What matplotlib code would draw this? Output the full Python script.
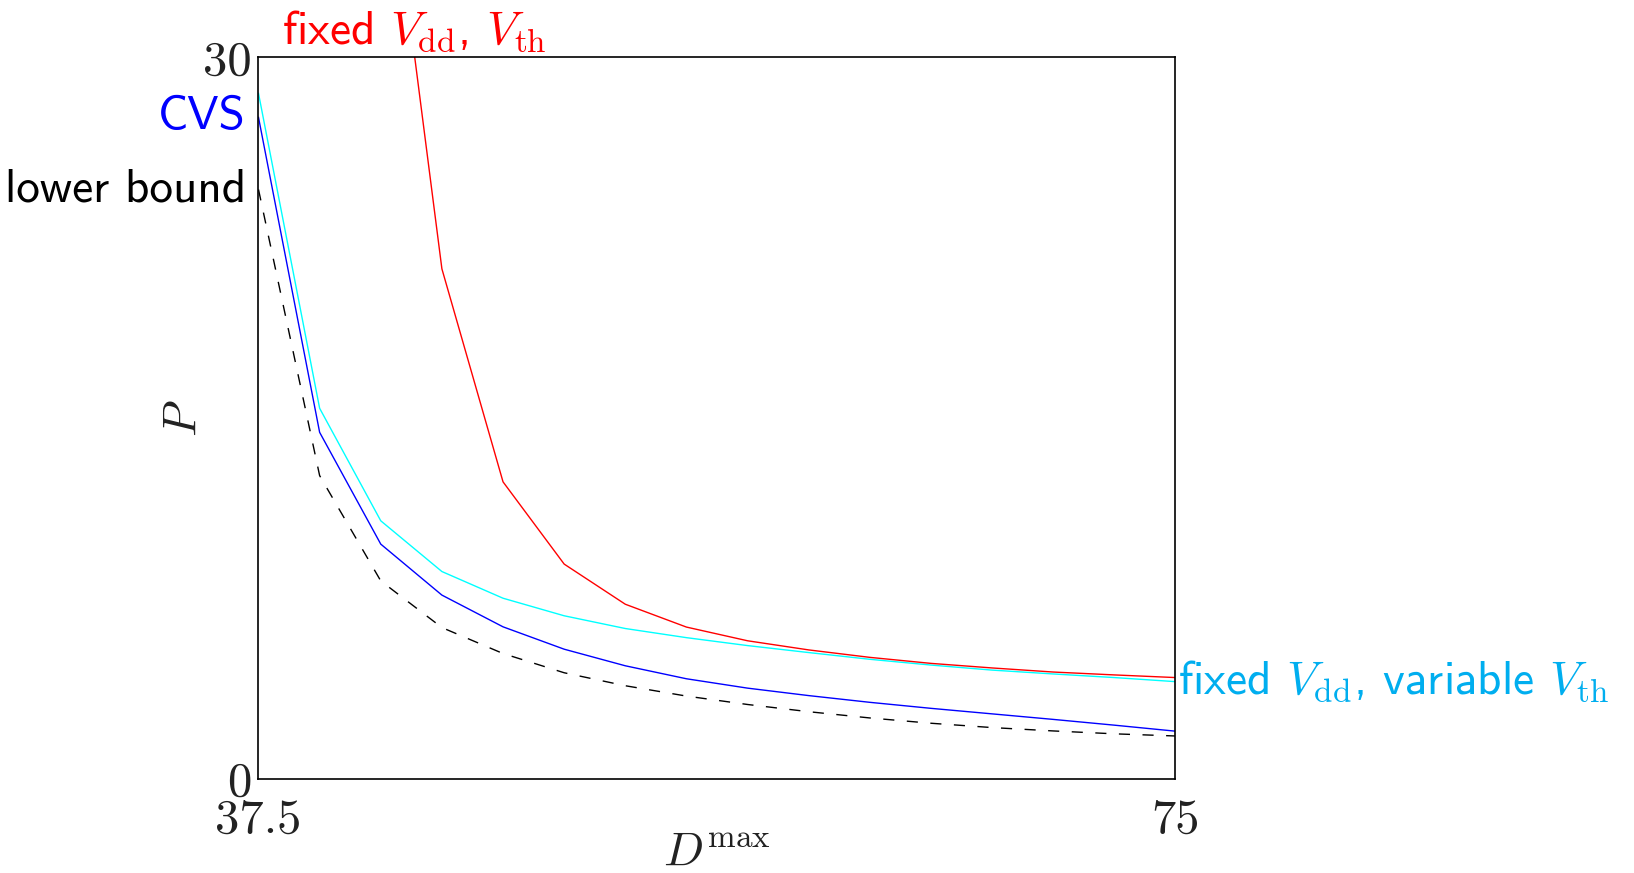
import numpy as np
import matplotlib
matplotlib.use("Agg")
import matplotlib.pyplot as plt

# 数学公式用 Computer Modern，普通文字用 cmss10
plt.rcParams["mathtext.fontset"] = "cm"
plt.rcParams["axes.unicode_minus"] = False

# 横轴：最大时延 D^max
dmax = [37.5, 40, 42.5, 45, 47.5, 50, 52.5, 55, 57.5, 60, 62.5, 65, 67.5, 70, 72.5, 75]

# 各方案的功耗 P
p_lower = [24.5, 12.6, 8.22, 6.28, 5.2, 4.4, 3.86, 3.43, 3.08, 2.78, 2.52, 2.3, 2.12, 1.98, 1.86, 1.77]
p_cvs = [27.5, 14.4, 9.75, 7.63, 6.31, 5.38, 4.69, 4.15, 3.76, 3.45, 3.17, 2.92, 2.69, 2.46, 2.22, 1.97]
p_var_vth = [28.5, 15.4, 10.72, 8.61, 7.5, 6.77, 6.24, 5.86, 5.53, 5.24, 4.96, 4.72, 4.51, 4.35, 4.2, 4.03]
# 固定 Vdd、Vth 在 D^max < 42.5 时无解
dmax_fixed = dmax[2:]
p_fixed = [41.0, 21.2, 12.34, 8.92, 7.25, 6.3, 5.73, 5.35, 5.04, 4.79, 4.6, 4.43, 4.31, 4.2]

fig = plt.figure(figsize=(16.34, 8.73), dpi=100)
ax = fig.add_axes([0.1582, 0.1082, 0.7194 - 0.1582, 0.9344 - 0.1082])

ax.plot(dmax, p_lower, color="black", lw=1.0, linestyle=(0, (8, 9)))
ax.plot(dmax, p_cvs, color="blue", lw=1.0)
ax.plot(dmax, p_var_vth, color="cyan", lw=1.0)
ax.plot(dmax_fixed, p_fixed, color="red", lw=1.0)

ax.set_xlim(37.5, 75)
ax.set_ylim(0, 30)
ax.set_xticks([37.5, 75])
ax.set_xticklabels(["37.5", "75"])
ax.set_yticks([0, 30])
ax.set_yticklabels(["0", "30"])
ax.tick_params(length=0, labelsize=35)
ax.tick_params(axis="x", pad=14)
ax.tick_params(axis="y", pad=5)
for lab in ax.get_xticklabels() + ax.get_yticklabels():
    lab.set_family("cmr10")
    lab.set_color("#222222")
for sp in ax.spines.values():
    sp.set_linewidth(1.2)

ax.set_xlabel(r"$D^{\max}$", fontsize=34, color="#222222")
ax.xaxis.set_label_coords(0.5, -0.071)
ax.set_ylabel(r"$P$", fontsize=34, color="#222222")
ax.yaxis.set_label_coords(-0.057, 0.5)

# 曲线标注
sans = "cmss10"
fs = 34
ax.annotate("CVS", xy=(dmax[0], p_cvs[0]), xytext=(-9, 0), textcoords="offset points",
            ha="right", va="center", color="blue", fontsize=fs, family=sans,
            annotation_clip=False)
ax.annotate("lower bound", xy=(dmax[0], p_lower[0]), xytext=(-9, 0), textcoords="offset points",
            ha="right", va="center", color="black", fontsize=fs, family=sans,
            annotation_clip=False)
ax.annotate(r"fixed $V_{\rm dd}$, variable $V_{\rm th}$", xy=(dmax[-1], p_var_vth[-1]),
            xytext=(2, 0), textcoords="offset points", ha="left", va="center",
            color="#00aeef", fontsize=fs, family=sans, annotation_clip=False)
# 红线与上边框的交点
x_cross = np.interp(30, p_fixed[1::-1], dmax_fixed[1::-1])
ax.annotate(r"fixed $V_{\rm dd}$, $V_{\rm th}$", xy=(x_cross, 30), xytext=(0, 2),
            textcoords="offset points", ha="center", va="bottom",
            color="red", fontsize=fs, family=sans, annotation_clip=False)

fig.savefig("out.png", dpi=100)
